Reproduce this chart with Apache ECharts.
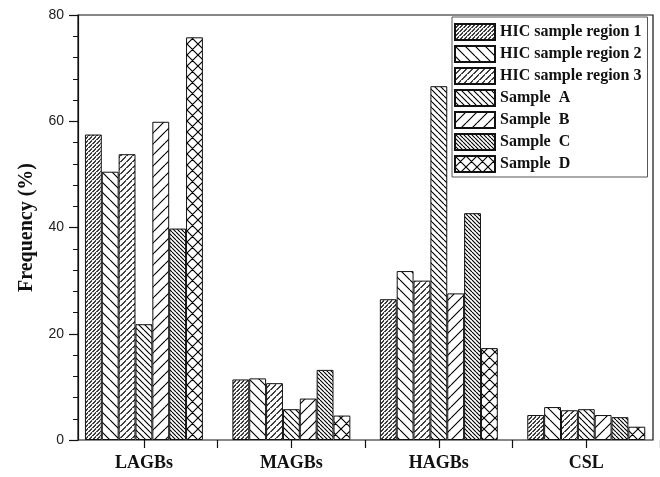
<!DOCTYPE html>
<html>
<head>
<meta charset="utf-8">
<script src="https://cdn.jsdelivr.net/npm/echarts@6/dist/echarts.min.js"></script>
<style>
  html, body { margin: 0; padding: 0; background: #fff; }
  #chart { width: 660px; height: 477px; }
</style>
</head>
<body>
<div id="chart"></div>
<script>
// Grain boundary classes and their frequency (%) for each sample
const categories = ['LAGBs', 'MAGBs', 'HAGBs', 'CSL'];
const seriesNames = ['HIC sample region 1', 'HIC sample region 2', 'HIC sample region 3',
                     'Sample  A', 'Sample  B', 'Sample  C', 'Sample  D'];
const region1 = [57.5, 11.4, 26.5, 4.7];
const region2 = [50.5, 11.6, 31.8, 6.2];
const region3 = [53.8, 10.7, 30.0, 5.6];
const sampleA = [21.8, 5.8, 66.6, 5.8];
const sampleB = [59.9, 7.8, 27.6, 4.7];
const sampleC = [39.8, 13.2, 42.7, 4.3];
const sampleD = [75.8, 4.6, 17.3, 2.5];
const yMin = 0, yMax = 80, yStep = 20;

// Hatch fill tiles: 'up' = '/', 'down' = '\', 'cross' = both
function hatch(period, dir) {
  const c = document.createElement('canvas');
  c.width = period; c.height = period;
  const g = c.getContext('2d');
  g.fillStyle = '#fff';
  g.fillRect(0, 0, period, period);
  g.strokeStyle = '#000';
  g.lineWidth = 1.15;
  g.beginPath();
  for (let k = -1; k <= 1; k++) {
    if (dir === 'up' || dir === 'cross') {
      g.moveTo(k * period, period);
      g.lineTo(k * period + period, 0);
    }
    if (dir === 'down' || dir === 'cross') {
      g.moveTo(k * period, 0);
      g.lineTo(k * period + period, period);
    }
  }
  g.stroke();
  return { image: c, repeat: 'repeat' };
}

const fills = [
  hatch(4.5, 'up'),
  hatch(10, 'down'),
  hatch(6.5, 'up'),
  hatch(6, 'down'),
  hatch(11, 'up'),
  hatch(4, 'down'),
  hatch(11, 'cross')
];
const values = [region1, region2, region3, sampleA, sampleB, sampleC, sampleD];

const serif = '"Liberation Serif", "Times New Roman", serif';
const tickStyle = { color: '#111', width: 1.2 };

const chart = echarts.init(document.getElementById('chart'), null, { renderer: 'canvas' });

chart.setOption({
  animation: false,
  backgroundColor: '#fff',
  grid: [
    // frame + y axis
    { left: 78, right: 7, top: 15, bottom: 37, show: true, borderColor: '#111', borderWidth: 1.2, backgroundColor: 'transparent' },
    // bar layout
    { left: 70.2, width: 590.8, top: 15, bottom: 37 }
  ],
  xAxis: [
    { gridIndex: 0, type: 'value', min: 0, max: 1, show: false },
    {
      gridIndex: 1, type: 'category', data: categories, position: 'bottom', offset: 0,
      axisLine: { show: false },
      axisTick: { show: true, alignWithLabel: true, length: 8, lineStyle: tickStyle },
      axisLabel: { margin: 14, fontFamily: serif, fontWeight: 'bold', fontSize: 18, color: '#111' }
    },
    {
      // ticks between the groups
      gridIndex: 1, type: 'category', data: categories, position: 'bottom', offset: 0,
      axisLine: { show: false },
      axisLabel: { show: false },
      axisTick: { show: true, interval: function (idx) { return idx > 0; }, length: 8, lineStyle: tickStyle }
    }
  ],
  yAxis: [
    {
      gridIndex: 0, type: 'value', min: yMin, max: yMax, interval: yStep,
      name: 'Frequency (%)', nameLocation: 'middle', nameGap: 41,
      nameTextStyle: { fontFamily: serif, fontWeight: 'bold', fontSize: 20, color: '#111' },
      axisLine: { show: true, lineStyle: tickStyle },
      axisTick: { show: true, length: 9, lineStyle: tickStyle },
      minorTick: { show: true, splitNumber: 5, length: 5, lineStyle: { color: '#111', width: 1 } },
      splitLine: { show: false },
      axisLabel: { margin: 14, fontFamily: '"Liberation Sans", Arial, sans-serif', fontSize: 14, color: '#222' }
    },
    { gridIndex: 1, type: 'value', min: yMin, max: yMax, show: false }
  ],
  legend: {
    orient: 'vertical',
    left: 452, top: 17,
    padding: [6, 6, 4, 2],
    itemWidth: 40, itemHeight: 16, itemGap: 4,
    icon: 'rect',
    borderColor: '#555', borderWidth: 1,
    textStyle: { fontFamily: serif, fontWeight: 'bold', fontSize: 16, color: '#111' }
  },
  series: values.map(function (arr, i) {
    return {
      name: seriesNames[i],
      type: 'bar',
      xAxisIndex: 1, yAxisIndex: 1,
      data: arr,
      barGap: '0%',
      barCategoryGap: '20%',
      itemStyle: { color: fills[i], borderColor: '#111', borderWidth: 1 }
    };
  })
});
</script>
</body>
</html>
